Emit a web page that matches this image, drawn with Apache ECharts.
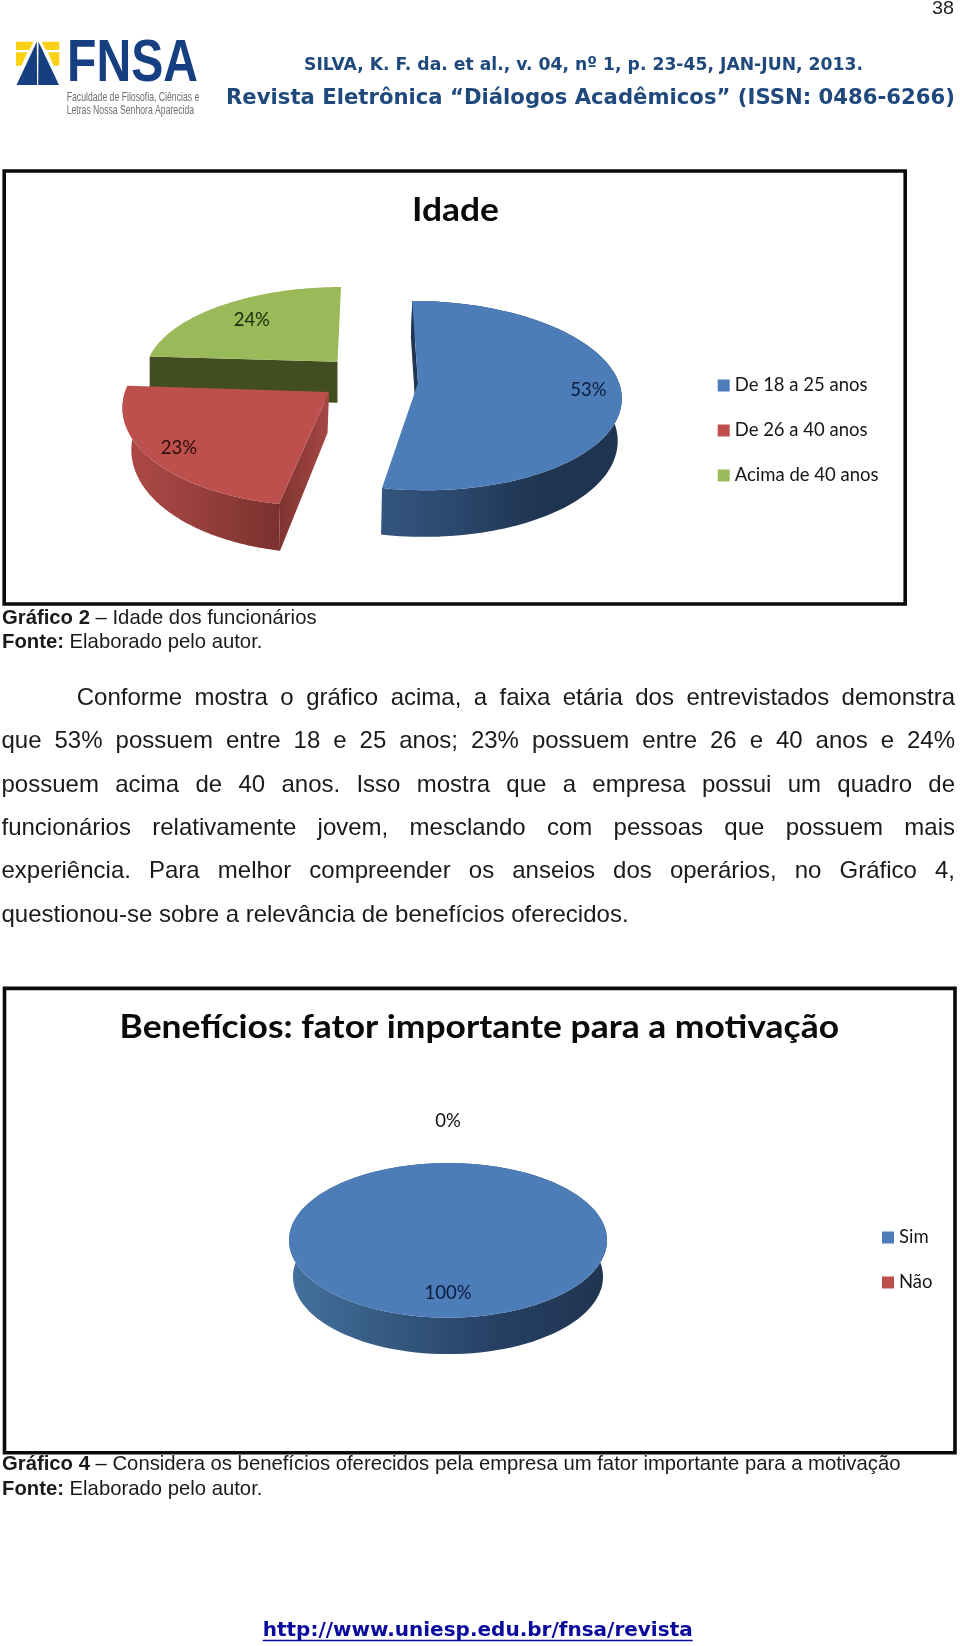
<!DOCTYPE html>
<html>
<head>
<meta charset="utf-8">
<title>Idade / Benefícios</title>
<style>html,body{margin:0;padding:0;background:#fff}#c{width:960px;height:1646px}</style>
<script src="https://cdn.jsdelivr.net/npm/echarts@6/dist/echarts.min.js"></script>
</head>
<body>
<div id="c"></div>
<script>
// ---- data ----
const ageCategories = ['De 18 a 25 anos', 'De 26 a 40 anos', 'Acima de 40 anos'];
const ageValues = [53, 23, 24];
const benefitCategories = ['Sim', 'Não'];
const benefitValues = [100, 0];
const ageTitle = 'Idade';
const benefitTitle = 'Benefícios: fator importante para a motivação';
const paragraphLines = [
  'Conforme mostra o gráfico acima, a faixa etária dos entrevistados demonstra',
  'que 53% possuem entre 18 e 25 anos; 23% possuem entre 26 e 40 anos e 24%',
  'possuem acima de 40 anos. Isso mostra que a empresa possui um quadro de',
  'funcionários relativamente jovem, mesclando com pessoas que possuem mais',
  'experiência. Para melhor compreender os anseios dos operários, no Gráfico 4,',
  'questionou-se sobre a relevância de benefícios oferecidos.'
];

// ---- style / layout ----
const FACE = { blue: '#4c7db9', red: '#bd504d', green: '#9aba59' };
const chartFont = 'Lato, Carlito, "Open Sans", sans-serif';
const bodyFont = '"Liberation Sans", Arial, sans-serif';
const headFont = '"DejaVu Sans", Verdana, sans-serif';

const ageLayouts = [
  { ax: 418, ay: 383, rx: 201, ry: 93, p: 0.133, shear: 6.5, vx: 308, k: 0.987, d0: 41.6, d1: 5,
    face: FACE.blue, labelR: 0.84, labelFill: '#0b1c3c', outer: true,
    outerFill: ['#34567f', '#2a466b', '#1f3450', '#1f3450'],
    startWall: ['#1f3550', '#1f3550'] },
  { ax: 329, ay: 392, rx: 204, ry: 99.5, p: 0.13, shear: -5.5, vx: 300, k: 0.95, d0: 41, d1: 5.8,
    face: FACE.red, labelR: 0.85, labelFill: '#2c0d0c', outer: true,
    outerFill: ['#ad4946', '#a04341', '#8c3a37', '#7a312e'],
    startWall: ['#7f3431', '#a64744'] },
  { ax: 337.5, ay: 361.7, rx: 190, ry: 84.4, p: 0.13, shear: -4, vx: 337, k: 1, d0: 41, d1: 0,
    face: FACE.green, labelR: 0.72, labelFill: '#1a2a0c', outer: false,
    startWall: ['#424d22', '#424d22'] }
];
const benefitLayouts = [
  { ax: 448, ay: 1240.3, rx: 159, ry: 77.3, p: 0, shear: 0, vx: 448, k: 0.975, d0: 36.5, d1: 0,
    face: FACE.blue, labelR: 0.68, labelFill: '#0b1c3c', outer: true,
    outerFill: ['#44719f', '#34587f', '#263f63', '#1f3450'] },
  { ax: 448, ay: 1240.3, rx: 159, ry: 77.3, p: 0, shear: 0, vx: 448, k: 1, d0: 0, d1: 0,
    face: FACE.red, labelR: 1.54, labelFill: '#111', outer: false }
];

function project(L, theta, r) {
  const u = r * Math.sin(theta), v = -r * Math.cos(theta);
  const s = 1 / (1 - L.p * v);
  return { x: L.ax + (L.rx * u + L.shear * v) * s, y: L.ay + L.ry * v * s, v: v };
}
function under(L, P) {
  return [L.vx + (P.x - L.vx) * L.k, P.y + L.d0 + L.d1 * P.v];
}
function hGrad(colors) {
  return { type: 'linear', x: 0, y: 0, x2: 1, y2: 0,
    colorStops: colors.map((c, i) => ({ offset: i / (colors.length - 1), color: c })) };
}
function sliceRenderer(values, L, index) {
  const total = values.reduce((a, b) => a + b, 0);
  const before = values.slice(0, index).reduce((a, b) => a + b, 0);
  return function (params, api) {
    const value = api.value(0);
    const a0 = before / total * 2 * Math.PI;
    const a1 = (before + value) / total * 2 * Math.PI;
    const children = [];
    const rim = [];
    const steps = 120;
    if (value > 0) {
      for (let i = 0; i <= steps; i++) rim.push(project(L, a0 + (a1 - a0) * i / steps, 1));
      const apex = { x: L.ax, y: L.ay, v: 0 };
      if (L.outer) {
        const pts = rim.map(q => [q.x, q.y]).concat(rim.slice().reverse().map(q => under(L, q)));
        children.push({ type: 'polygon', shape: { points: pts }, style: { fill: hGrad(L.outerFill) } });
      }
      if (L.startWall) {
        const r0 = rim[0];
        children.push({ type: 'polygon',
          shape: { points: [[r0.x, r0.y], under(L, r0), under(L, apex), [apex.x, apex.y]] },
          style: { fill: hGrad(L.startWall) } });
      }
      const face = rim.map(q => [q.x, q.y]);
      if (a1 - a0 < 2 * Math.PI - 1e-6) face.push([apex.x, apex.y]);
      children.push({ type: 'polygon', shape: { points: face }, style: { fill: L.face } });
    }
    const lp = project(L, (a0 + a1) / 2, L.labelR);
    children.push({ type: 'text', x: lp.x, y: lp.y, style: {
      text: Math.round(value / total * 100) + '%', fill: L.labelFill,
      font: '18.5px ' + chartFont, align: 'center', verticalAlign: 'middle' } });
    return { type: 'group', children: children };
  };
}
function sliceSeries(names, values, layouts, colors, i) {
  return { type: 'custom', name: names[i], coordinateSystem: 'none', silent: true,
    itemStyle: { color: colors[i] }, data: [[values[i]]],
    renderItem: sliceRenderer(values, layouts[i], i) };
}

// ---- text helpers (graphic elements) ----
const mctx = document.createElement('canvas').getContext('2d');
function measure(font, t) { mctx.font = font; return mctx.measureText(t).width; }
function txt(t, font, size, x, baseline, fill, targetW) {
  const f = font + ' ' ; 
  const full = f;
  const w = measure(full, t);
  return { type: 'text', silent: true, x: x, y: baseline - 0.347 * size,
    scaleX: targetW ? targetW / w : 1,
    style: { text: t, font: full, fill: fill, align: 'left', verticalAlign: 'middle' } };
}
function bodyF(size, bold) { return (bold ? 'bold ' : '') + size + 'px ' + bodyFont; }
function runs(parts, x, baseline, size, fill) {
  const out = [];
  let cx = x;
  parts.forEach(p => {
    const f = bodyF(size, p[1]);
    out.push(txt(p[0], f, size, cx, baseline, fill));
    cx += measure(f, p[0]);
  });
  return out;
}
function justified(line, x0, x1, baseline, size, fill, justify) {
  const f = bodyF(size);
  const words = line.split(' ');
  const widths = words.map(w => measure(f, w));
  const sum = widths.reduce((a, b) => a + b, 0);
  const gap = justify ? (x1 - x0 - sum) / (words.length - 1) : measure(f, ' ');
  let cx = x0;
  return words.map((w, i) => {
    const el = txt(w, f, size, cx, baseline, fill);
    cx += widths[i] + gap;
    return el;
  });
}
function frame(x, y, w, h, lw) {
  return { type: 'rect', silent: true, shape: { x: x, y: y, width: w, height: h },
    style: { fill: 'none', stroke: '#0a0a0a', lineWidth: lw } };
}
function poly(points, fill) {
  return { type: 'polygon', silent: true, shape: { points: points }, style: { fill: fill } };
}

const logoBlue = '#153f80', logoYellow = '#fbd116', headBlue = '#1f497d';
const graphics = [
  frame(4.2, 171, 901, 433, 3.6),
  frame(4.5, 988.4, 950.5, 464.4, 3.6),
  // logo mark
  poly([[16, 41.7], [33.5, 41.7], [29.5, 50], [16, 50]], logoYellow),
  poly([[16, 52.3], [27.5, 52.3], [21.5, 65.7], [16, 65.7]], logoYellow),
  poly([[59.3, 41.7], [41.8, 41.7], [45.8, 50], [59.3, 50]], logoYellow),
  poly([[59.3, 52.3], [47.8, 52.3], [53.8, 65.7], [59.3, 65.7]], logoYellow),
  poly([[36.8, 41.7], [37.1, 85], [16.5, 85]], logoBlue),
  poly([[38.5, 41.7], [38.2, 85], [59, 85]], logoBlue),
  txt('FNSA', 'bold 60px ' + bodyFont, 60, 67, 85, logoBlue, 131),
  txt('Faculdade de Filosofia, Ciências e', '13.5px ' + bodyFont, 13.5, 66.7, 101.7, '#6e6e6e', 132.6),
  txt('Letras Nossa Senhora Aparecida', '13.5px ' + bodyFont, 13.5, 66.7, 115, '#6e6e6e', 127.3),
  txt('38', '19px ' + bodyFont, 19, 932, 15, '#222', 22),
  txt('SILVA, K. F. da. et al., v. 04, nº 1, p. 23-45, JAN-JUN, 2013.', 'bold 18px ' + headFont, 18, 304, 71.5, headBlue, 559),
  txt('Revista Eletrônica “Diálogos Acadêmicos” (ISSN: 0486-6266)', 'bold 22px ' + headFont, 22, 226, 106, headBlue, 729),
  txt(ageTitle, 'bold 33px ' + chartFont, 33, 412, 222, '#0a0a0a', 87),
  txt(benefitTitle, 'bold 33px ' + chartFont, 33, 119.6, 1039, '#0a0a0a', 719.4),
  txt('http://www.uniesp.edu.br/fnsa/revista', 'bold 19px ' + headFont, 19, 262.7, 1637.7, '#0a0a9c', 430),
  { type: 'line', silent: true, shape: { x1: 262.7, y1: 1640.5, x2: 692.7, y2: 1640.5 },
    style: { stroke: '#0a0a9c', lineWidth: 1.4 } }
]
.concat(runs([['Gráfico 2', true], [' – Idade dos funcionários', false]], 2, 625, 20.3, '#1a1a1a'))
.concat(runs([['Fonte:', true], [' Elaborado pelo autor.', false]], 2, 649, 20.3, '#1a1a1a'))
.concat(runs([['Gráfico 4', true], [' – Considera os benefícios oferecidos pela empresa um fator importante para a motivação', false]], 2, 1471.5, 20.3, '#1a1a1a'))
.concat(runs([['Fonte:', true], [' Elaborado pelo autor.', false]], 2, 1496, 20.3, '#1a1a1a'));

paragraphLines.forEach((line, i) => {
  const first = i === 0 ? 76.7 : 1.5;
  justified(line, first, 955, 706.5 + 43.4 * i, 24, '#1a1a1a', i < paragraphLines.length - 1)
    .forEach(e => graphics.push(e));
});

const ageColors = [FACE.blue, FACE.red, FACE.green];
const benefitColors = [FACE.blue, FACE.red];
const legendText = { color: '#161616', fontFamily: chartFont, fontSize: 18.5 };

const chart = echarts.init(document.getElementById('c'), null, { width: 960, height: 1646 });
chart.setOption({
  backgroundColor: '#ffffff',
  animation: false,
  tooltip: { show: false },
  legend: [
    { data: ageCategories, orient: 'vertical', left: 717.7, top: 376, icon: 'rect', itemWidth: 12, itemHeight: 12,
      itemGap: 26, selectedMode: false, padding: 0, textStyle: legendText },
    { data: benefitCategories, orient: 'vertical', left: 882, top: 1228, icon: 'rect', itemWidth: 12, itemHeight: 12,
      itemGap: 26, selectedMode: false, padding: 0, textStyle: legendText }
  ],
  series: [
    sliceSeries(ageCategories, ageValues, ageLayouts, ageColors, 2),
    sliceSeries(ageCategories, ageValues, ageLayouts, ageColors, 1),
    sliceSeries(ageCategories, ageValues, ageLayouts, ageColors, 0),
    sliceSeries(benefitCategories, benefitValues, benefitLayouts, benefitColors, 0),
    sliceSeries(benefitCategories, benefitValues, benefitLayouts, benefitColors, 1)
  ],
  graphic: graphics
});
</script>
</body>
</html>
